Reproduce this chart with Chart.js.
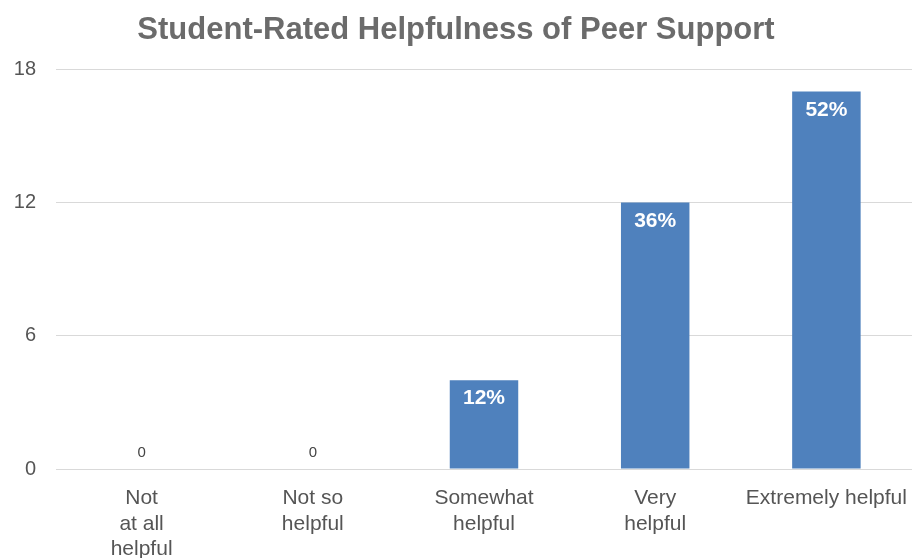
<!DOCTYPE html>
<html>
<head>
<meta charset="utf-8">
<script src="https://cdn.jsdelivr.net/npm/chart.js@4"></script>
<style>
  html, body { margin: 0; padding: 0; background: #fff; }
  #wrap { width: 912px; height: 558px; }
</style>
</head>
<body>
<div id="wrap"><canvas id="chart" width="912" height="558"></canvas></div>
<script>
const categories = [['Not', 'at all', 'helpful'], ['Not so', 'helpful'], ['Somewhat', 'helpful'], ['Very', 'helpful'], 'Extremely helpful'];
const counts = [0, 0, 4, 12, 17];
const percentLabels = ['0', '0', '12%', '36%', '52%'];
const yTicks = [0, 6, 12, 18];

const FONT = '"Liberation Sans", Arial, Helvetica, sans-serif';

// draws the value labels: plain "0" above empty bars, white percent inside the others
const barLabels = {
  id: 'barLabels',
  afterDatasetsDraw(chart) {
    const ctx = chart.ctx;
    const meta = chart.getDatasetMeta(0);
    ctx.save();
    ctx.textAlign = 'center';
    meta.data.forEach((bar, i) => {
      if (counts[i] === 0) {
        ctx.fillStyle = '#444';
        ctx.font = '15px ' + FONT;
        ctx.textBaseline = 'bottom';
        ctx.fillText(percentLabels[i], bar.x, bar.y - 9);
      } else {
        ctx.fillStyle = '#fff';
        ctx.font = 'bold 21px ' + FONT;
        ctx.textBaseline = 'top';
        ctx.fillText(percentLabels[i], bar.x, bar.y + 8);
      }
    });
    ctx.restore();
  }
};

new Chart(document.getElementById('chart').getContext('2d'), {
  type: 'bar',
  data: {
    labels: categories,
    datasets: [{
      data: counts,
      backgroundColor: '#4f81bd',
      categoryPercentage: 1,
      barPercentage: 0.4
    }]
  },
  options: {
    responsive: false,
    animation: false,
    layout: { padding: { left: 0, right: 0, top: 6, bottom: 0 } },
    plugins: {
      legend: { display: false },
      tooltip: { enabled: false },
      title: {
        display: true,
        text: 'Student-Rated Helpfulness of Peer Support',
        color: '#6b6b6b',
        font: { family: FONT, size: 31, weight: 'bold' },
        padding: { top: 6, bottom: 20 }
      }
    },
    scales: {
      x: {
        grid: { display: false },
        border: { display: false },
        ticks: {
          color: '#555',
          font: { family: FONT, size: 21 },
          maxRotation: 0,
          autoSkip: false,
          padding: 9
        },
        afterFit(scale) {
          scale.height = 89;
          scale.paddingLeft = 0;
          scale.paddingRight = 0;
        }
      },
      y: {
        min: 0,
        max: 18,
        afterBuildTicks(scale) { scale.ticks = yTicks.map(v => ({ value: v })); },
        grid: { color: '#d9d9d9', lineWidth: 1, drawTicks: false },
        border: { display: false },
        ticks: {
          color: '#555',
          font: { family: FONT, size: 20 },
          padding: 20
        },
        afterFit(scale) { scale.width = 56; }
      }
    }
  },
  plugins: [barLabels]
});
</script>
</body>
</html>
